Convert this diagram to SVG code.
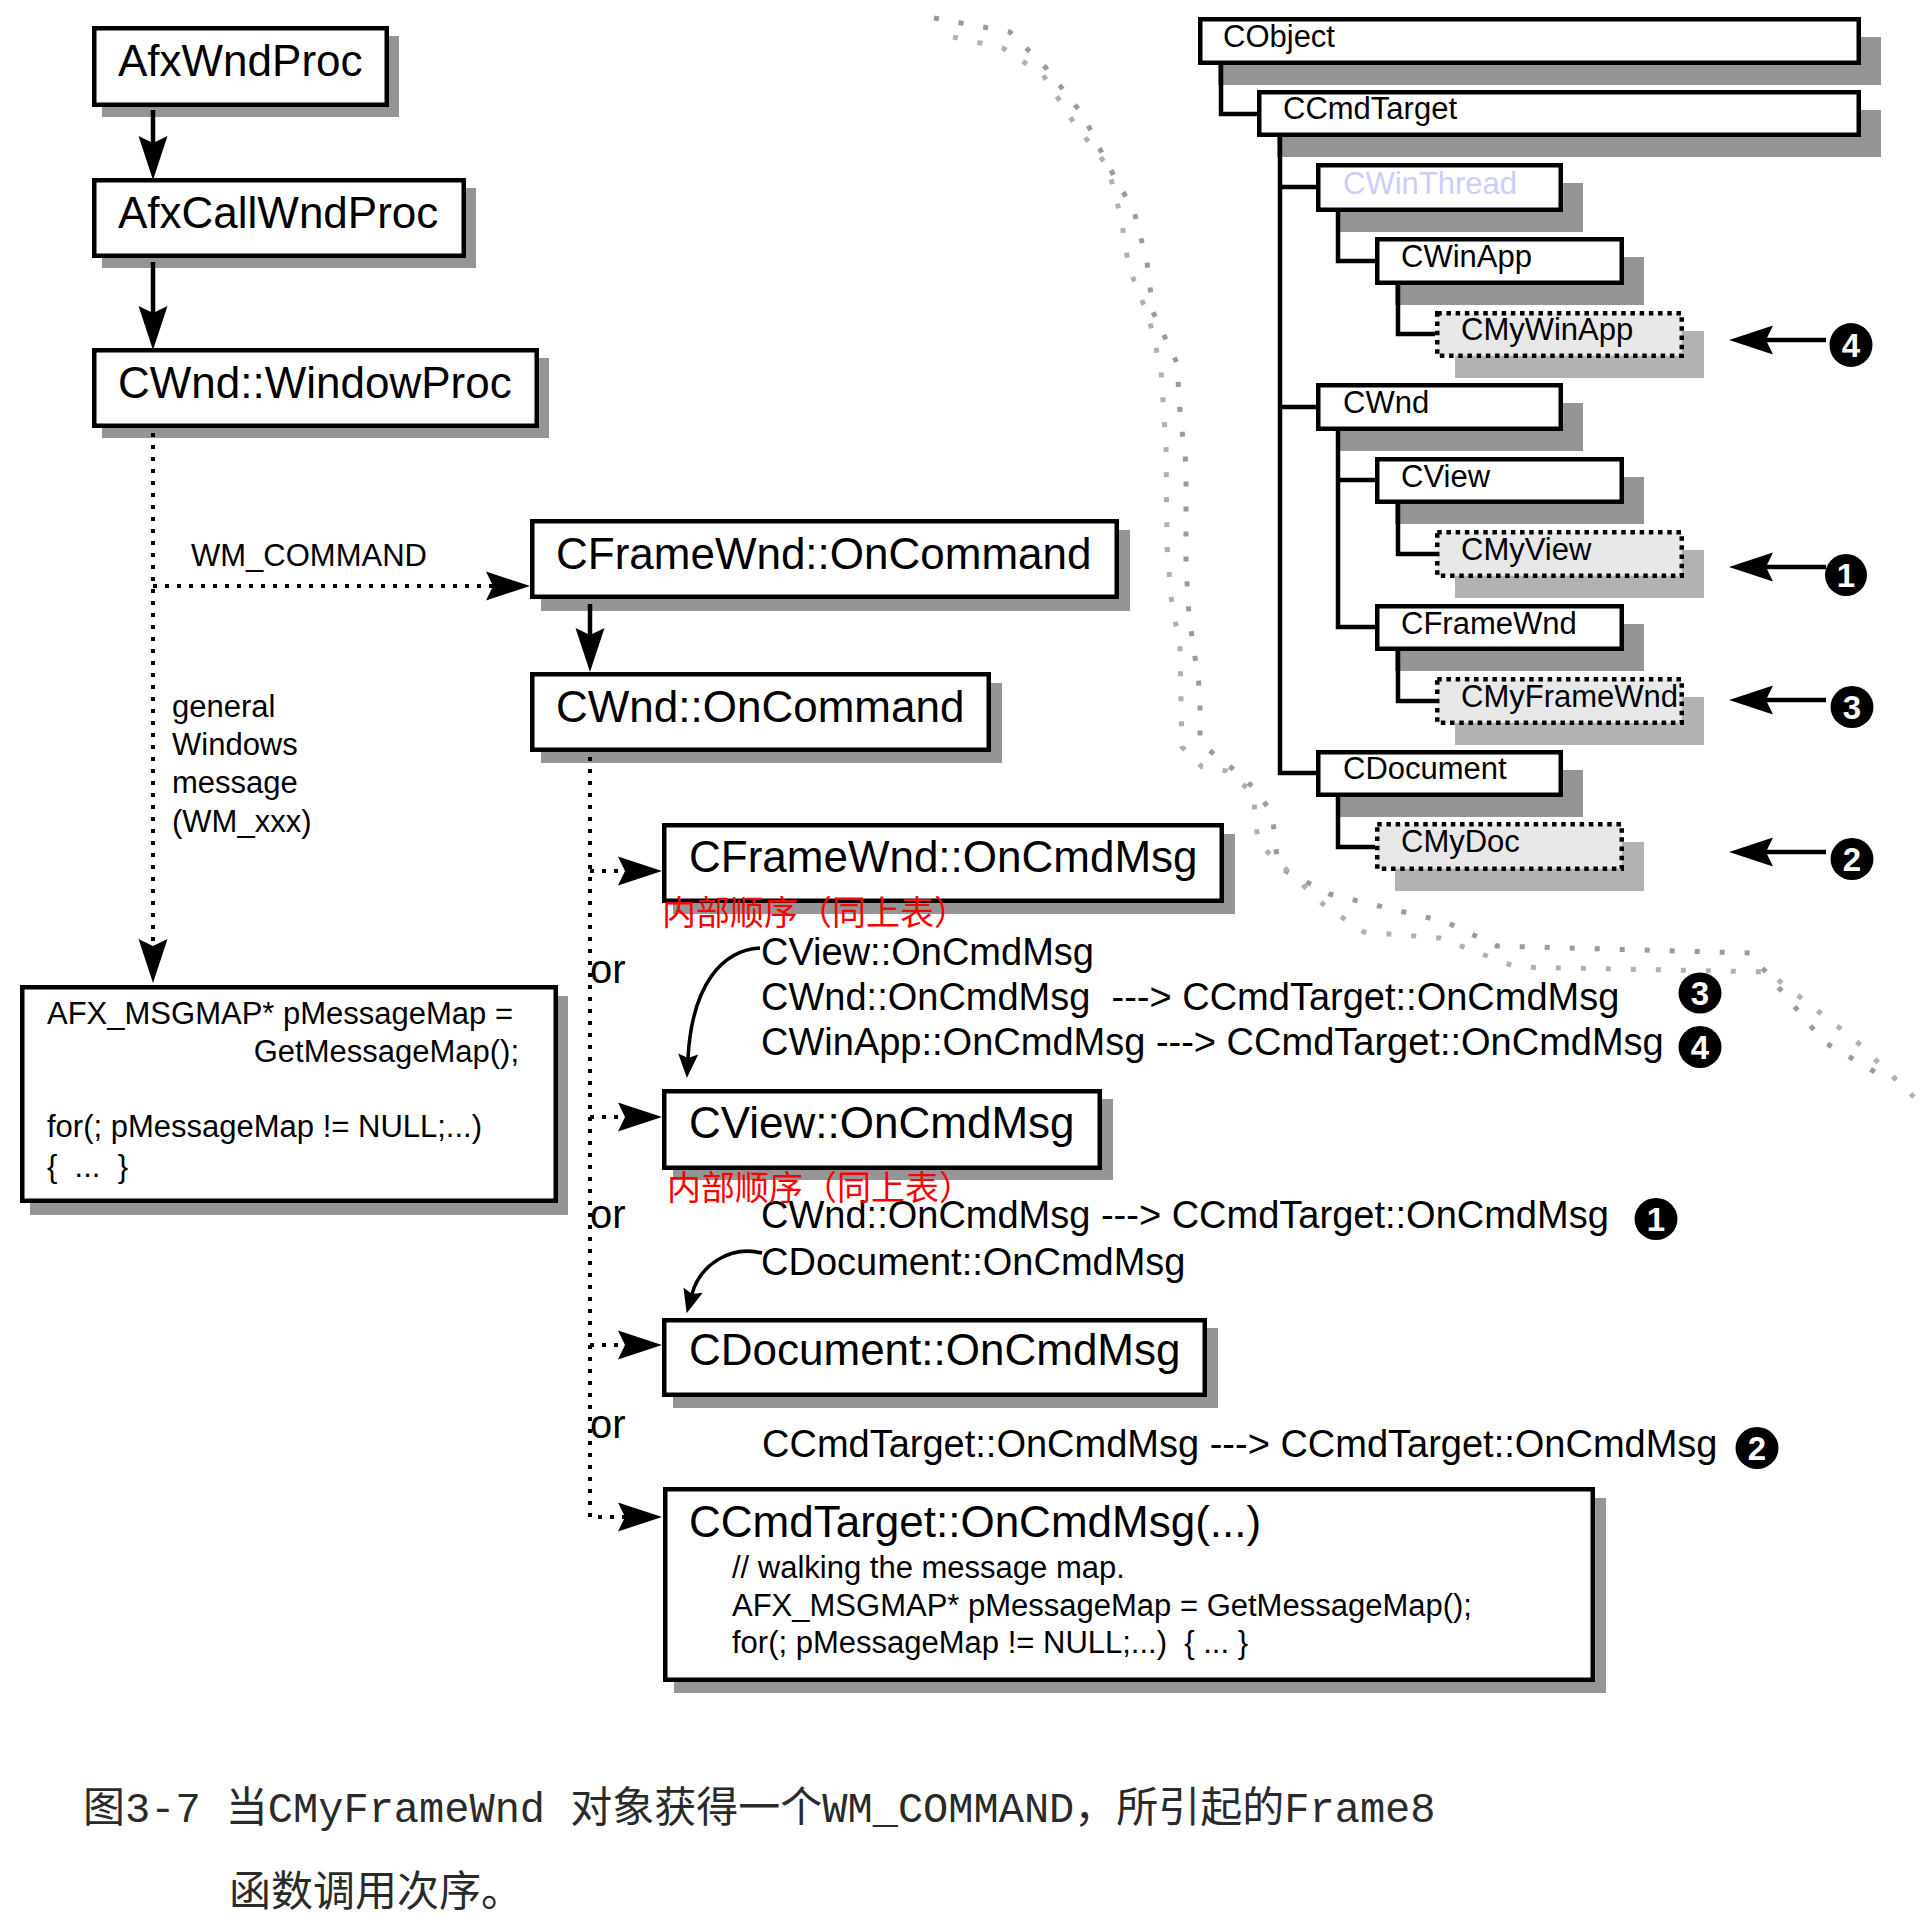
<svg xmlns="http://www.w3.org/2000/svg" width="1932" height="1924" viewBox="0 0 1932 1924">
<style>
.sh{fill:#959595}
.dsh{fill:#b2b2b2}
.bx{fill:#fff;stroke:#000;stroke-width:4.5}
.dbx{fill:#e8e8e8;stroke:#000;stroke-width:4.5;stroke-dasharray:4.5 4.7}
.big{font-family:"Liberation Sans",Arial,sans-serif;font-size:44px;fill:#000}
.tr{font-family:"Liberation Sans",Arial,sans-serif;font-size:31px;fill:#000}
.md{font-family:"Liberation Sans",Arial,sans-serif;font-size:38px;fill:#000}
.sm{font-family:"Liberation Sans",Arial,sans-serif;font-size:31px;fill:#000}
.or{font-family:"Liberation Sans",Arial,sans-serif;font-size:40px;fill:#000}
.red{font-family:"Noto Sans CJK SC",sans-serif;font-size:34px;fill:#ff0000}
.cap{font-family:"Liberation Mono","Noto Sans CJK SC",monospace;font-size:42px;fill:#2a2a2a}
.num{font-family:"Liberation Sans",Arial,sans-serif;font-size:33px;font-weight:bold;fill:#fff;text-anchor:middle}
.sol{fill:none;stroke:#000;stroke-width:4.5}
.cur{fill:none;stroke:#000;stroke-width:3.5}
.dot{fill:none;stroke:#000;stroke-width:4;stroke-dasharray:4 8}
.tl{fill:none;stroke:#000;stroke-width:4.5}
.gc{fill:none;stroke-width:5;stroke-dasharray:5 20}
</style>
<defs>
<marker id="ah" markerUnits="userSpaceOnUse" viewBox="-8 -16 46 32" refX="0" refY="0" markerWidth="46" markerHeight="32" orient="auto">
<path d="M37,0 L-7,-14.5 L0,0 L-7,14.5 Z" fill="#000"/>
</marker>
<marker id="as" markerUnits="userSpaceOnUse" viewBox="-5 -11 26 22" refX="0" refY="0" markerWidth="26" markerHeight="22" orient="auto">
<path d="M20,0 L-4,-10 L0,0 L-4,10 Z" fill="#000"/>
</marker>
</defs>
<rect width="1932" height="1924" fill="#fff"/>

<g id="dotted-curve">
<path class="gc" stroke="#9a9a9a" d="M934,18 L1010,32 L1046,68 L1083,115 L1108,165 L1134,211 L1147,262 L1153,312 L1177,363 L1180,413 L1186,464 L1186,565 L1189,616 L1200,692 L1200,743 L1233,769 L1254,788 L1272,813 L1278,867 L1329,894 L1446,922 L1497,946 L1750,953 L1824,1042 L1892,1082"/>
<path class="gc" stroke="#b0b0b0" d="M953,37 L1003,48 L1043,75 L1074,123 L1108,167 L1121,218 L1129,268 L1149,318 L1161,370 L1166,446 L1167,546 L1171,597 L1180,648 L1182,747 L1202,767 L1227,771 L1253,793 L1258,843 L1325,906 L1364,932 L1440,938 L1516,967 L1768,972 L1855,1040 L1914,1097"/>
</g>

<g id="n-afxwndproc">
<rect class="sh" x="102" y="36" width="297" height="81"/>
<rect class="bx" x="94.25" y="28.25" width="292.5" height="76.5"/>
<text class="big" x="118" y="76">AfxWndProc</text>
</g>
<g id="n-afxcallwndproc">
<rect class="sh" x="102" y="188" width="374" height="80"/>
<rect class="bx" x="94.25" y="180.25" width="369.5" height="75.5"/>
<text class="big" x="118" y="228">AfxCallWndProc</text>
</g>
<g id="n-windowproc">
<rect class="sh" x="102" y="358" width="447" height="80"/>
<rect class="bx" x="94.25" y="350.25" width="442.5" height="75.5"/>
<text class="big" x="118" y="398">CWnd::WindowProc</text>
</g>
<g id="n-framecommand">
<rect class="sh" x="541" y="530" width="589" height="81"/>
<rect class="bx" x="532.25" y="521.25" width="584.5" height="75.5"/>
<text class="big" x="556" y="569">CFrameWnd::OnCommand</text>
</g>
<g id="n-wndcommand">
<rect class="sh" x="541" y="683" width="461" height="80"/>
<rect class="bx" x="532.25" y="674.25" width="456.5" height="75.5"/>
<text class="big" x="556" y="722">CWnd::OnCommand</text>
</g>
<g id="n-afxmsgmap">
<rect class="sh" x="30" y="996" width="538" height="219"/>
<rect class="bx" x="22.25" y="987.25" width="533.5" height="213.5"/>
<text class="sm" x="47" y="1024">AFX_MSGMAP* pMessageMap =</text>
<text class="sm" x="519" y="1062" text-anchor="end">GetMessageMap();</text>
<text class="sm" x="47" y="1137">for(; pMessageMap != NULL;...)</text>
<text class="sm" x="47" y="1177" xml:space="preserve">{  ...  }</text>
</g>
<g id="n-framecmdmsg">
<rect class="sh" x="673" y="834" width="562" height="80"/>
<rect class="bx" x="664.25" y="825.25" width="557.5" height="75.5"/>
<text class="big" x="689" y="872">CFrameWnd::OnCmdMsg</text>
</g>
<g id="n-viewcmdmsg">
<rect class="sh" x="673" y="1099" width="440" height="81"/>
<rect class="bx" x="664.25" y="1091.25" width="435.5" height="76.5"/>
<text class="big" x="689" y="1138">CView::OnCmdMsg</text>
</g>
<g id="n-doccmdmsg">
<rect class="sh" x="673" y="1328" width="545" height="80"/>
<rect class="bx" x="664.25" y="1320.25" width="540.5" height="74.5"/>
<text class="big" x="689" y="1365">CDocument::OnCmdMsg</text>
</g>
<g id="n-cmdtargetcmdmsg">
<rect class="sh" x="674" y="1498" width="932" height="195"/>
<rect class="bx" x="665.25" y="1489.25" width="927.5" height="190.5"/>
<text class="big" x="689" y="1537">CCmdTarget::OnCmdMsg(...)</text>
<text class="sm" x="732" y="1578">// walking the message map.</text>
<text class="sm" x="732" y="1616">AFX_MSGMAP* pMessageMap = GetMessageMap();</text>
<text class="sm" x="732" y="1653" xml:space="preserve">for(; pMessageMap != NULL;...)  { ... }</text>
</g>

<g id="n-cobject">
<rect class="sh" x="1218" y="37" width="663" height="48"/>
<rect class="bx" x="1200.25" y="19.25" width="658.5" height="43.5"/>
<text class="tr" x="1223" y="47">CObject</text>
</g>
<g id="n-ccmdtarget">
<rect class="sh" x="1277" y="110" width="604" height="47"/>
<rect class="bx" x="1259.25" y="92.25" width="599.5" height="42.5"/>
<text class="tr" x="1283" y="119">CCmdTarget</text>
</g>
<g id="n-cwinthread">
<rect class="sh" x="1336" y="183" width="247" height="49"/>
<rect class="bx" x="1318.25" y="165.25" width="242.5" height="44.5"/>
<text class="tr" x="1343" y="194" style="fill:#ccccff">CWinThread</text>
</g>
<g id="n-cwinapp">
<rect class="sh" x="1395" y="257" width="249" height="48"/>
<rect class="bx" x="1377.25" y="239.25" width="244.5" height="43.5"/>
<text class="tr" x="1401" y="267">CWinApp</text>
</g>
<g id="n-cmywinapp">
<rect class="dsh" x="1455" y="331" width="249" height="47"/>
<rect class="dbx" x="1437.25" y="313.25" width="244.5" height="42.5"/>
<text class="tr" x="1461" y="340">CMyWinApp</text>
</g>
<g id="n-cwnd">
<rect class="sh" x="1336" y="403" width="247" height="48"/>
<rect class="bx" x="1318.25" y="385.25" width="242.5" height="43.5"/>
<text class="tr" x="1343" y="413">CWnd</text>
</g>
<g id="n-cview">
<rect class="sh" x="1395" y="477" width="249" height="47"/>
<rect class="bx" x="1377.25" y="459.25" width="244.5" height="42.5"/>
<text class="tr" x="1401" y="487">CView</text>
</g>
<g id="n-cmyview">
<rect class="dsh" x="1455" y="550" width="249" height="48"/>
<rect class="dbx" x="1437.25" y="532.25" width="244.5" height="43.5"/>
<text class="tr" x="1461" y="560">CMyView</text>
</g>
<g id="n-cframewnd">
<rect class="sh" x="1395" y="624" width="249" height="47"/>
<rect class="bx" x="1377.25" y="606.25" width="244.5" height="42.5"/>
<text class="tr" x="1401" y="634">CFrameWnd</text>
</g>
<g id="n-cmyframewnd">
<rect class="dsh" x="1455" y="697" width="249" height="48"/>
<rect class="dbx" x="1437.25" y="679.25" width="244.5" height="43.5"/>
<text class="tr" x="1461" y="707">CMyFrameWnd</text>
</g>
<g id="n-cdocument">
<rect class="sh" x="1336" y="770" width="247" height="47"/>
<rect class="bx" x="1318.25" y="752.25" width="242.5" height="42.5"/>
<text class="tr" x="1343" y="779">CDocument</text>
</g>
<g id="n-cmydoc">
<rect class="dsh" x="1395" y="842" width="249" height="49"/>
<rect class="dbx" x="1377.25" y="824.25" width="244.5" height="44.5"/>
<text class="tr" x="1401" y="852">CMyDoc</text>
</g>

<g id="labels">
<text class="sm" x="191" y="566">WM_COMMAND</text>
<text class="sm" x="172" y="717">general</text>
<text class="sm" x="172" y="755">Windows</text>
<text class="sm" x="172" y="793">message</text>
<text class="sm" x="172" y="832">(WM_xxx)</text>
<text class="or" x="590" y="983">or</text>
<text class="or" x="590" y="1228">or</text>
<text class="or" x="590" y="1438">or</text>
<text class="md" x="761" y="965">CView::OnCmdMsg</text>
<text class="md" x="761" y="1010" xml:space="preserve">CWnd::OnCmdMsg  ---&gt; CCmdTarget::OnCmdMsg</text>
<text class="md" x="761" y="1055">CWinApp::OnCmdMsg ---&gt; CCmdTarget::OnCmdMsg</text>
<text class="md" x="761" y="1228">CWnd::OnCmdMsg ---&gt; CCmdTarget::OnCmdMsg</text>
<text class="md" x="761" y="1275">CDocument::OnCmdMsg</text>
<text class="md" x="762" y="1457">CCmdTarget::OnCmdMsg ---&gt; CCmdTarget::OnCmdMsg</text>
<text class="red" x="662" y="925">内部顺序（同上表）</text>
<text class="red" x="667" y="1200">内部顺序（同上表）</text>
</g>

<g id="badges">
<ellipse cx="1851" cy="345" rx="21.5" ry="22"/><text class="num" x="1851" y="357">4</text>
<ellipse cx="1846" cy="575" rx="21" ry="21"/><text class="num" x="1846" y="587">1</text>
<ellipse cx="1852" cy="707" rx="21.5" ry="21"/><text class="num" x="1852" y="719">3</text>
<ellipse cx="1852" cy="859" rx="21.5" ry="21"/><text class="num" x="1852" y="871">2</text>
<ellipse cx="1700" cy="993" rx="21.5" ry="20.5"/><text class="num" x="1700" y="1005">3</text>
<ellipse cx="1700" cy="1047" rx="21.5" ry="21"/><text class="num" x="1700" y="1059">4</text>
<ellipse cx="1656" cy="1219" rx="21.5" ry="21"/><text class="num" x="1656" y="1231">1</text>
<ellipse cx="1757" cy="1448" rx="21.5" ry="21"/><text class="num" x="1757" y="1460">2</text>
</g>

<g id="connectors">
<path class="tl" d="M1221,65 V114 H1257"/>
<path class="tl" d="M1280,137 V773 H1316 M1280,187 H1316 M1280,407 H1316"/>
<path class="tl" d="M1338,212 V261 H1375"/>
<path class="tl" d="M1398,285 V334 H1435"/>
<path class="tl" d="M1338,431 V627 H1375 M1338,480 H1375"/>
<path class="tl" d="M1398,504 V554 H1435"/>
<path class="tl" d="M1398,651 V701 H1435"/>
<path class="tl" d="M1338,797 V847 H1375"/>
<path class="sol" d="M1826,340 H1766" marker-end="url(#ah)"/>
<path class="sol" d="M1826,567 H1766" marker-end="url(#ah)"/>
<path class="sol" d="M1826,700 H1766" marker-end="url(#ah)"/>
<path class="sol" d="M1826,852 H1766" marker-end="url(#ah)"/>
<path class="sol" d="M153,110 V143" marker-end="url(#ah)"/>
<path class="sol" d="M153,262 V313" marker-end="url(#ah)"/>
<path class="sol" d="M590,604 V635" marker-end="url(#ah)"/>
<path class="dot" d="M153,433 V946" marker-end="url(#ah)"/>
<path class="dot" d="M153,586 H493" marker-end="url(#ah)"/>
<path class="dot" d="M590,757 V1517 H625" marker-end="url(#ah)"/>
<path class="dot" d="M590,871 H625" marker-end="url(#ah)"/>
<path class="dot" d="M590,1117 H625" marker-end="url(#ah)"/>
<path class="dot" d="M590,1345 H625" marker-end="url(#ah)"/>
<path class="cur" d="M760,948 C722,950 692,985 688,1058" marker-end="url(#as)"/>
<path class="cur" d="M762,1253 C730,1245 700,1265 692,1294" marker-end="url(#as)"/>
</g>

<g id="caption">
<text class="cap" x="83" y="1822">图3-7 当CMyFrameWnd 对象获得一个WM_COMMAND，所引起的Frame8</text>
<text class="cap" x="229" y="1906">函数调用次序。</text>
</g>
</svg>
